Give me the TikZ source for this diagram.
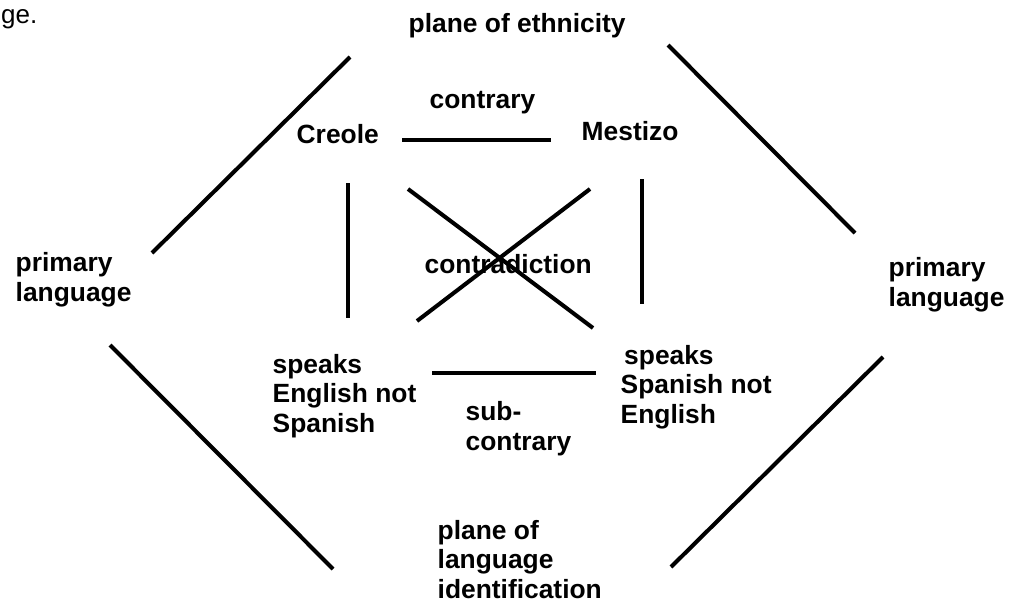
\documentclass[tikz,border=0pt]{standalone}
\usepackage{fontspec}
\setmainfont{Liberation Sans}
\usepackage{tikz}

\tikzset{
  lbl/.style={font=\fontsize{7.5}{8.25}\selectfont\bfseries, inner sep=0pt,
    anchor=base west, align=left},
  bar/.style={line width=1.15pt}
}

\begin{document}
\begin{tikzpicture}[x=0.01cm, y=-0.01cm]
    \useasboundingbox (0, 0) rectangle (1021, 603);

    \coordinate (Ge) at (0.5, 23);
    \coordinate (Eth) at (408, 32);
    \coordinate (Cont) at (429, 108);
    \coordinate (Creole) at (296, 143);
    \coordinate (Mestizo) at (581, 140);
    \coordinate (Contra) at (424, 273);
    \coordinate (Priml) at (15, 301);
    \coordinate (Primr) at (888, 306);
    \coordinate (Engl) at (272, 432);
    \coordinate (Span) at (620, 423);
    \coordinate (Sub) at (465, 450);
    \coordinate (Lang) at (437, 598);

    \coordinate (Ethl) at (152, 253);
    \coordinate (Ethlt) at (350, 57);
    \coordinate (Ethrt) at (668, 45);
    \coordinate (Ethr) at (855, 233);
    \coordinate (Langl) at (110, 345);
    \coordinate (Langlb) at (333, 569);
    \coordinate (Langr) at (883, 357);
    \coordinate (Langrb) at (671, 567);

    \coordinate (Creoler) at (402, 140);
    \coordinate (Mestizol) at (551, 140);
    \coordinate (Creoles) at (348, 183);
    \coordinate (Engln) at (348, 318);
    \coordinate (Mestizos) at (642, 179);
    \coordinate (Spann) at (642, 304);
    \coordinate (Englr) at (432, 373);
    \coordinate (Spanl) at (596, 373);

    \coordinate (Xnw) at (408, 189);
    \coordinate (Xse) at (593, 328);
    \coordinate (Xne) at (590, 189);
    \coordinate (Xsw) at (417, 321);

    \draw[anchor=base west] (Ge) node (ge) [font=\fontsize{7.4}{9}\selectfont, inner sep=0pt] {ge.};
    \draw (Eth) node[lbl] (eth) {plane of ethnicity};
    \draw (Cont) node[lbl] (cont) {contrary};
    \draw (Creole) node[lbl] (creole) {Creole};
    \draw (Mestizo) node[lbl] (mestizo) {Mestizo};
    \draw (Contra) node[lbl] (contra) {contradiction};
    \draw (Priml) node[lbl] (priml) {primary\\language};
    \draw (Primr) node[lbl] (primr) {primary\\language};
    \draw (Engl) node[lbl] (engl) {speaks\\English not\\Spanish};
    \draw (Span) node[lbl] (span) {\hspace{2.5\pgflinewidth}speaks\\Spanish not\\English};
    \draw (Sub) node[lbl] (sub) {sub-\\contrary};
    \draw (Lang) node[lbl] (lang) {plane of\\language\\identification};

    \draw[bar] (Ethl) -- (Ethlt);
    \draw[bar] (Ethrt) -- (Ethr);
    \draw[bar] (Langl) -- (Langlb);
    \draw[bar] (Langr) -- (Langrb);

    \draw[bar] (Creoler) -- (Mestizol);
    \draw[bar] (Creoles) -- (Engln);
    \draw[bar] (Mestizos) -- (Spann);
    \draw[bar] (Englr) -- (Spanl);

    \draw[bar] (Xnw) -- (Xse);
    \draw[bar] (Xne) -- (Xsw);
  \end{tikzpicture}
\end{document}
